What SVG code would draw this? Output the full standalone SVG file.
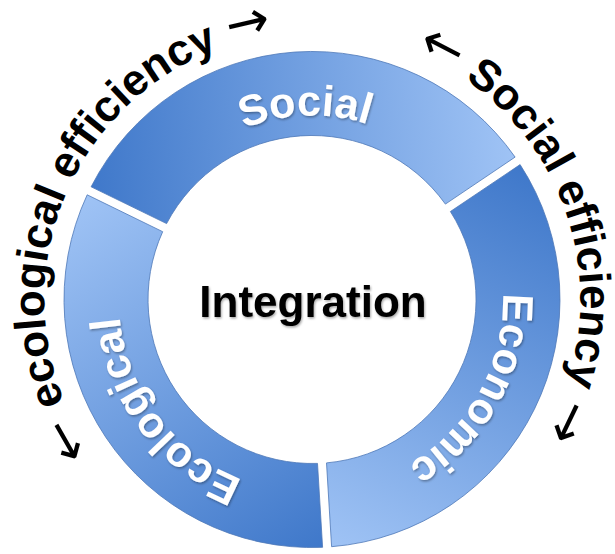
<svg xmlns="http://www.w3.org/2000/svg" width="615" height="554" viewBox="0 0 615 554">
  <style>
    .seg { stroke: #4d78b8; stroke-width: 1; stroke-opacity: 0.8; }
    .lbl { font-family: "Liberation Sans", Arial, sans-serif; font-weight: bold; font-size: 43px; fill: #ffffff; }
    .outer { font-family: "Liberation Sans", Arial, sans-serif; font-weight: bold; font-size: 44px; fill: #000000; }
    .arr { font-family: "DejaVu Sans", sans-serif; font-weight: normal; font-size: 52px; }
    .center { font-family: "Liberation Sans", Arial, sans-serif; font-weight: bold; font-size: 44px; fill: #000000; }
  </style>
  <defs>
    <linearGradient id="gSocial" gradientUnits="userSpaceOnUse" x1="91" y1="200" x2="515" y2="160">
      <stop offset="0" stop-color="#3f78ca"/>
      <stop offset="1" stop-color="#9fc3f5"/>
    </linearGradient>
    <linearGradient id="gEconomic" gradientUnits="userSpaceOnUse" x1="520" y1="165" x2="330" y2="546">
      <stop offset="0" stop-color="#3f78ca"/>
      <stop offset="1" stop-color="#9fc3f5"/>
    </linearGradient>
    <linearGradient id="gEcological" gradientUnits="userSpaceOnUse" x1="322" y1="547" x2="87" y2="195">
      <stop offset="0" stop-color="#3f78ca"/>
      <stop offset="1" stop-color="#9fc3f5"/>
    </linearGradient>
    <filter id="shadow" x="-10%" y="-20%" width="120%" height="140%">
      <feDropShadow dx="1" dy="1.5" stdDeviation="1.2" flood-color="#000000" flood-opacity="0.35"/>
    </filter>
    <path id="pSocialLbl" d="M 149.5 213.1 A 184 184 0 0 1 468 202"/>
    <path id="pEconomicLbl" d="M 475.7 201.1 A 191 191 0 0 1 315.3 490.5"/>
    <path id="pEcologicalLbl" d="M 335.5 491.1 A 193 193 0 0 1 134.3 224.1"/>
    <path id="pOuterSocial" d="M 249.4 38.9 A 268 268 0 0 1 418.9 545.3"/>
    <path id="pOuterEco" d="M 184.1 535 A 268 268 0 0 1 397 45.4"/>
  </defs>

  <g id="social">
    <path class="seg" fill="url(#gSocial)" d="M 91.1 186.8 A 248 248 0 0 1 515.1 157.1 L 445.4 204.1 A 164 164 0 0 0 166.6 223.6 Z"/>
    <text class="lbl" filter="url(#shadow)"><textPath href="#pSocialLbl" startOffset="50%" text-anchor="middle">Social</textPath></text>
  </g>

  <g id="economic">
    <path class="seg" fill="url(#gEconomic)" d="M 520.1 164.6 A 248 248 0 0 1 331.6 546.7 L 326.5 462.9 A 164 164 0 0 0 450.4 211.5 Z"/>
    <text class="lbl" filter="url(#shadow)"><textPath href="#pEconomicLbl" startOffset="50%" text-anchor="middle">Economic</textPath></text>
  </g>

  <g id="ecological">
    <path class="seg" fill="url(#gEcological)" d="M 322.6 547.3 A 248 248 0 0 1 87.2 194.8 L 162.7 231.7 A 164 164 0 0 0 317.5 463.4 Z"/>
    <text class="lbl" filter="url(#shadow)"><textPath href="#pEcologicalLbl" startOffset="50%" text-anchor="middle">Ecological</textPath></text>
  </g>

  <g id="integration">
    <text class="center" x="313" y="317" text-anchor="middle" filter="url(#shadow)">Integration</text>
  </g>

  <g id="connectors">
    <text class="outer"><textPath href="#pOuterSocial" startOffset="50%" text-anchor="middle"><tspan class="arr">←</tspan> Social efficiency <tspan class="arr">→</tspan></textPath></text>
    <text class="outer"><textPath href="#pOuterEco" startOffset="50%" text-anchor="middle"><tspan class="arr">←</tspan> ecological efficiency <tspan class="arr">→</tspan></textPath></text>
  </g>
</svg>
